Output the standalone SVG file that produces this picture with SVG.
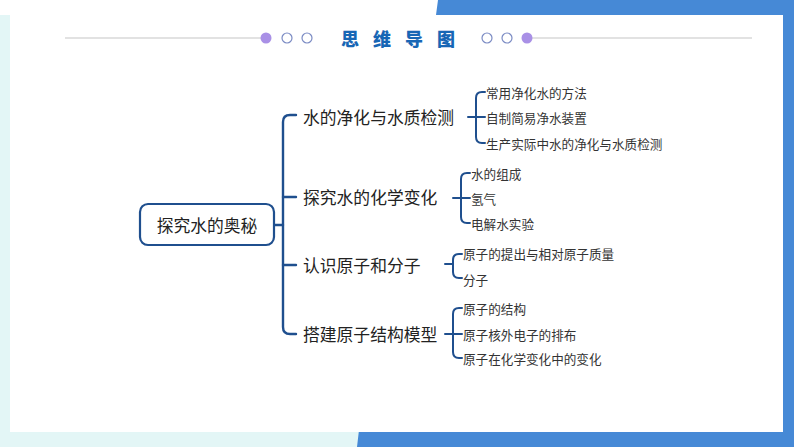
<svg xmlns="http://www.w3.org/2000/svg" width="794" height="447" viewBox="0 0 794 447">
<style>
.ln{fill:none;stroke:#1f4f8e;stroke-width:2.4;stroke-linecap:round;stroke-linejoin:round}
.sl{fill:none;stroke:#1f4f8e;stroke-width:2;stroke-linecap:round;stroke-linejoin:round}
.t1{font-family:"Noto Sans CJK SC","Noto Sans",sans-serif;font-size:16.8px;fill:#222;dominant-baseline:central}
.t2{font-family:"Noto Sans CJK SC","Noto Sans",sans-serif;font-size:12.6px;fill:#333;dominant-baseline:central}
.oc{fill:#fff;stroke:#7c8cc4;stroke-width:1.2}
.fc{fill:#a990e6}
</style>
<g id="background">
<rect x="0" y="15" width="783" height="432" fill="#e3f6f6"/>
<polygon points="438,0 794,0 794,447 357,447 359,430 436,15" fill="#4689d6"/>
<rect x="10" y="15" width="773" height="417" fill="#fff"/>
</g>
<g id="title">
<line x1="65" y1="38" x2="266" y2="38" stroke="#e2e2e2" stroke-width="2"/>
<line x1="527" y1="38" x2="752" y2="38" stroke="#e2e2e2" stroke-width="2"/>
<circle class="fc" cx="266" cy="38" r="5.5"/>
<circle class="oc" cx="287" cy="38" r="5"/>
<circle class="oc" cx="307" cy="38" r="5"/>
<circle class="oc" cx="487" cy="38" r="5"/>
<circle class="oc" cx="507" cy="38" r="5"/>
<circle class="fc" cx="527" cy="38" r="5.5"/>
<text x="405" y="38" text-anchor="middle" font-family="'Noto Sans CJK SC',sans-serif" font-size="18" font-weight="900" fill="#1766b5" letter-spacing="14" dominant-baseline="central">思维导图</text>
</g>
<g id="connectors">
<path class="ln" d="M274,225 H283"/>
<path class="ln" d="M296,115 H290 Q283,115 283,122 V327 Q283,334 290,334 H296"/>
<path class="ln" d="M283,197 H296"/>
<path class="ln" d="M283,265 H296"/>
<path class="sl" d="M485,92 H482 Q476,92 476,98 V137 Q476,143 482,143 H485"/>
<path class="sl" d="M468,117 H485"/>
<path class="sl" d="M470,173 H467 Q461,173 461,179 V217 Q461,223 467,223 H470"/>
<path class="sl" d="M453,198 H470"/>
<path class="sl" d="M462,254 H459 Q453,254 453,260 V272 Q453,278 459,278 H462"/>
<path class="sl" d="M445,264 H453"/>
<path class="sl" d="M462,308 H459 Q453,308 453,314 V352 Q453,358 459,358 H462"/>
<path class="sl" d="M445,334 H462"/>
</g>
<g id="root">
<rect x="140" y="204" width="134" height="41" rx="8" fill="#fff" stroke="#1f4f8e" stroke-width="2.2"/>
<text class="t1" x="207" y="225" text-anchor="middle">探究水的奥秘</text>
</g>
<g id="b1"><text class="t1" x="303" y="117">水的净化与水质检测</text></g>
<g id="b2"><text class="t1" x="303" y="197">探究水的化学变化</text></g>
<g id="b3"><text class="t1" x="303" y="265">认识原子和分子</text></g>
<g id="b4"><text class="t1" x="303" y="334">搭建原子结构模型</text></g>
<g id="s11"><text class="t2" x="486" y="92">常用净化水的方法</text></g>
<g id="s12"><text class="t2" x="486" y="117">自制简易净水装置</text></g>
<g id="s13"><text class="t2" x="486" y="143">生产实际中水的净化与水质检测</text></g>
<g id="s21"><text class="t2" x="471" y="173">水的组成</text></g>
<g id="s22"><text class="t2" x="471" y="198">氢气</text></g>
<g id="s23"><text class="t2" x="471" y="223">电解水实验</text></g>
<g id="s31"><text class="t2" x="463" y="253">原子的提出与相对原子质量</text></g>
<g id="s32"><text class="t2" x="463" y="279">分子</text></g>
<g id="s41"><text class="t2" x="463" y="308">原子的结构</text></g>
<g id="s42"><text class="t2" x="463" y="334">原子核外电子的排布</text></g>
<g id="s43"><text class="t2" x="463" y="358">原子在化学变化中的变化</text></g>
</svg>
